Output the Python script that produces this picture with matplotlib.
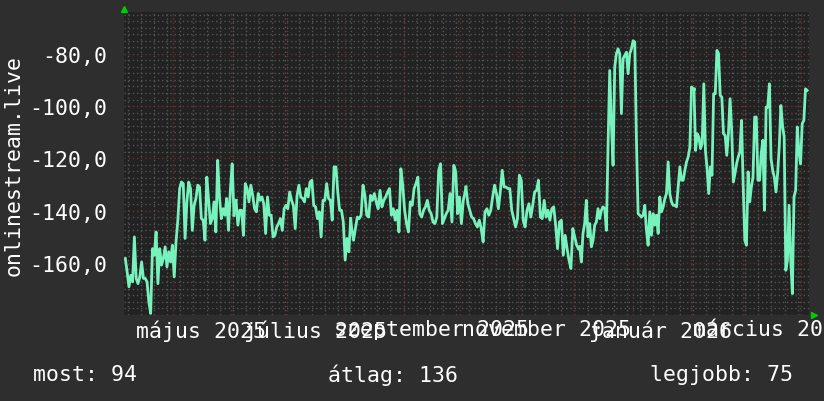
import matplotlib

matplotlib.use("Agg")
import matplotlib.pyplot as plt
import numpy as np
import pandas as pd
from matplotlib.ticker import FixedLocator, MultipleLocator

# readings in six consecutive stretches
seg1 = [-158.4, -163.5, -169.2, -164.8, -167.3, -150.1, -166.0, -168.0, -165.4, -159.7,
        -166.0, -166.0, -167.3, -175.0, -179.4, -154.6, -157.1, -148.2, -168.0, -154.6,
        -160.9, -158.4, -153.9, -161.6, -155.8, -159.7, -153.3, -165.4, -152.0, -143.7,
        -131.6, -129.1, -129.7, -150.7, -136.7, -129.1, -131.6, -147.6, -138.0, -135.4,
        -130.3, -131.0, -143.1, -143.7, -151.4, -127.2, -136.1, -145.0, -143.1, -136.7,
        -148.2, -120.8, -134.8, -143.1, -139.3, -141.8, -135.4, -147.6, -132.3, -122.1,
        -141.8]
seg2 = [-136.1, -145.6, -139.9, -139.9, -149.5, -129.7, -131.6, -136.7, -130.3, -134.2,
        -139.3, -140.5, -133.5, -136.1, -134.8, -137.4, -148.8, -134.8, -141.8, -141.8,
        -150.1, -149.5, -146.3, -145.0, -143.1, -147.6, -139.3, -138.0, -139.3, -132.9,
        -136.1, -138.0, -146.9, -134.2, -130.3, -134.8, -135.4, -136.7, -131.6, -134.8,
        -129.1, -128.4, -138.0, -138.6, -143.1, -140.5, -150.1, -136.1, -136.1, -129.7,
        -135.4, -136.1, -143.7, -123.3, -123.3, -132.9, -139.9, -139.9, -144.4, -159.0,
        -150.7, -155.8, -143.1]
seg3 = [-146.9, -151.4, -146.9, -142.5, -143.1, -141.8, -130.3, -134.2, -141.8, -142.5,
        -134.2, -136.1, -133.5, -136.7, -139.3, -132.3, -138.6, -136.1, -134.8, -132.9,
        -131.6, -141.8, -139.3, -143.7, -139.9, -148.2, -124.0, -130.3, -139.9, -145.0,
        -148.2, -136.7, -138.0, -131.6, -129.7, -127.2, -141.2, -142.5, -139.9, -138.6,
        -136.1, -139.9, -141.2, -144.4, -145.0, -142.5, -124.6, -122.1, -145.0, -143.1,
        -141.2, -139.9, -133.5, -144.4, -122.7, -125.2, -141.2, -134.8, -145.0, -136.1,
        -132.9]
seg4 = [-131.0, -137.4, -139.9, -142.5, -143.1, -145.0, -146.3, -143.7, -146.9, -152.0,
        -140.5, -139.3, -141.8, -139.9, -134.8, -130.3, -133.5, -139.3, -132.9, -124.6,
        -131.0, -131.0, -131.6, -131.6, -139.9, -143.1, -146.3, -143.1, -126.5, -128.4,
        -143.7, -146.3, -139.9, -137.4, -142.5, -138.0, -132.9, -132.3, -128.4, -142.5,
        -143.1, -136.1, -142.5, -139.9, -143.7, -139.3, -138.6, -145.6, -154.6, -144.4,
        -143.7, -157.1, -149.5, -154.6, -159.0, -162.2, -146.9, -150.1, -153.3, -154.6]
seg5 = [-153.9, -159.7, -148.8, -145.0, -136.1, -150.1, -145.0, -153.9, -151.4, -145.6,
        -144.4, -139.3, -143.1, -139.9, -138.6, -139.3, -147.6, -115.0, -86.4, -106.8,
        -122.7, -85.1, -80.0, -78.1, -80.0, -102.9, -81.9, -80.6, -79.4, -87.6,
        -80.0, -78.1, -75.0, -75.5, -113.1, -141.2, -141.8, -142.5, -141.8, -138.0,
        -147.6, -153.3, -140.5, -149.5, -141.2, -145.6, -141.8, -148.8, -134.8, -140.5,
        -138.6, -135.5, -133.5, -121.4, -133.5, -136.7, -138.0, -138.0, -138.6, -131.0,
        -123.3, -128.4, -128.4, -124.6, -121.4, -119.5, -115.7, -92.7, -93.4]
seg6 = [-93.4, -117.0, -110.6, -111.9, -116.3, -114.4, -91.5, -117.0, -124.0, -133.5,
        -123.3, -126.5, -95.3, -95.3, -78.7, -80.0, -95.9, -96.6, -110.6, -111.2,
        -118.9, -110.6, -97.2, -109.3, -129.1, -125.9, -122.1, -119.5, -117.6, -105.5,
        -129.7, -151.4, -153.3, -125.2, -136.7, -131.0, -127.2, -104.2, -104.2, -128.4,
        -128.4, -118.2, -113.1, -139.9, -100.4, -100.4, -91.5, -120.1, -124.6, -127.2,
        -132.9, -125.9, -115.7, -99.8, -107.4, -111.9, -162.9, -159.0, -138.0, -159.0,
        -171.8, -134.8, -132.3, -108.0, -117.6, -122.1, -106.8, -105.5, -93.4, -94.0]
segments = [seg1, seg2, seg3, seg4, seg5, seg6]
# first / last day of each stretch, counted from the start of the window
seg_days = [(0.7, 58.6), (59.7, 120.8), (121.3, 181.8), (182.2, 242.2),
            (242.8, 303.3), (303.7, 364.0)]

window_start = pd.Timestamp("2025-04-05")
window_end = pd.Timestamp("2026-04-05")

label_dates = ["2025-05-16", "2025-07-16", "2025-09-16", "2025-11-16",
               "2026-01-16", "2026-03-16"]
label_text = ["május 2025", "július 2025", "szeptember 2025", "november 2025",
              "január 2026", "március 2026"]
y_ticks = [-160, -140, -120, -100, -80]

now_val, avg_val, best_val = 94, 136, 75

BG = "#2e2e2e"
PLOT_BG = "#222222"
LINE = "#78f2bc"
MINOR = "#555555"
MAJOR = "#6e3030"
ARROW = "#00cc00"
FONT = "DejaVu Sans Mono"
FS = 15.5

plt.rcParams["font.family"] = FONT

fig = plt.figure(figsize=(8.24, 4.02), dpi=100, facecolor=BG)
ax = fig.add_axes([124 / 824, 86 / 402, 685 / 824, 303 / 402], facecolor=PLOT_BG)

for vals, (d0, d1) in zip(segments, seg_days):
    t = pd.date_range(window_start + pd.Timedelta(days=d0),
                      window_start + pd.Timedelta(days=d1), periods=len(vals))
    ax.plot(t, vals, color=LINE, lw=2, zorder=5)
# join the stretches
for a, b, (_, d1), (d0, _) in zip(segments[:-1], segments[1:], seg_days[:-1], seg_days[1:]):
    ax.plot([window_start + pd.Timedelta(days=d1), window_start + pd.Timedelta(days=d0)],
            [a[-1], b[0]], color=LINE, lw=2, zorder=5)

ax.set_xlim(window_start, window_end)
ax.set_ylim(-180, -64)

# weekly (Monday) and monthly grid lines
for d in pd.date_range(window_start, window_end, freq="W-MON"):
    ax.axvline(d, color=MINOR, lw=1, ls=(0, (1, 2)), zorder=1)
for d in pd.date_range(window_start, window_end, freq="MS"):
    ax.axvline(d, color=MAJOR, lw=1, ls=(0, (1, 2)), zorder=2)

ax.yaxis.set_major_locator(FixedLocator(y_ticks))
ax.yaxis.set_minor_locator(MultipleLocator(2.5))
ax.set_yticklabels([f"{v:.1f}".replace(".", ",") for v in y_ticks])
ax.grid(axis="y", which="minor", color=MINOR, lw=1, ls=(0, (1, 2)), zorder=1)
ax.grid(axis="y", which="major", color=MAJOR, lw=1, ls=(0, (1, 2)), zorder=2)

ax.set_xticks(pd.to_datetime(label_dates))
ax.set_xticklabels(label_text)

ax.tick_params(axis="both", which="both", length=0, colors="white", labelsize=FS)
ax.tick_params(axis="y", pad=12)
ax.tick_params(axis="x", pad=3)
for s in ax.spines.values():
    s.set_visible(False)

fig.text(14 / 824, 1 - 165 / 402, "onlinestream.live", rotation=90,
         ha="center", va="center", color="white", fontsize=FS)

# little axis arrows
fig.add_artist(plt.Line2D([124.5 / 824], [1 - 10 / 402], marker="^", ms=5,
                          color=ARROW, transform=fig.transFigure))
fig.add_artist(plt.Line2D([814 / 824], [1 - 316 / 402], marker=">", ms=5,
                          color=ARROW, transform=fig.transFigure))

fig.text(33 / 824, 1 - 375 / 402, f"most: {now_val}", color="white", fontsize=FS,
         ha="left", va="center")
fig.text(328 / 824, 1 - 375 / 402, f"átlag: {avg_val}", color="white", fontsize=FS,
         ha="left", va="center")
fig.text(650 / 824, 1 - 375 / 402, f"legjobb: {best_val}", color="white", fontsize=FS,
         ha="left", va="center")

fig.savefig("out.png", dpi=100, facecolor=BG)
